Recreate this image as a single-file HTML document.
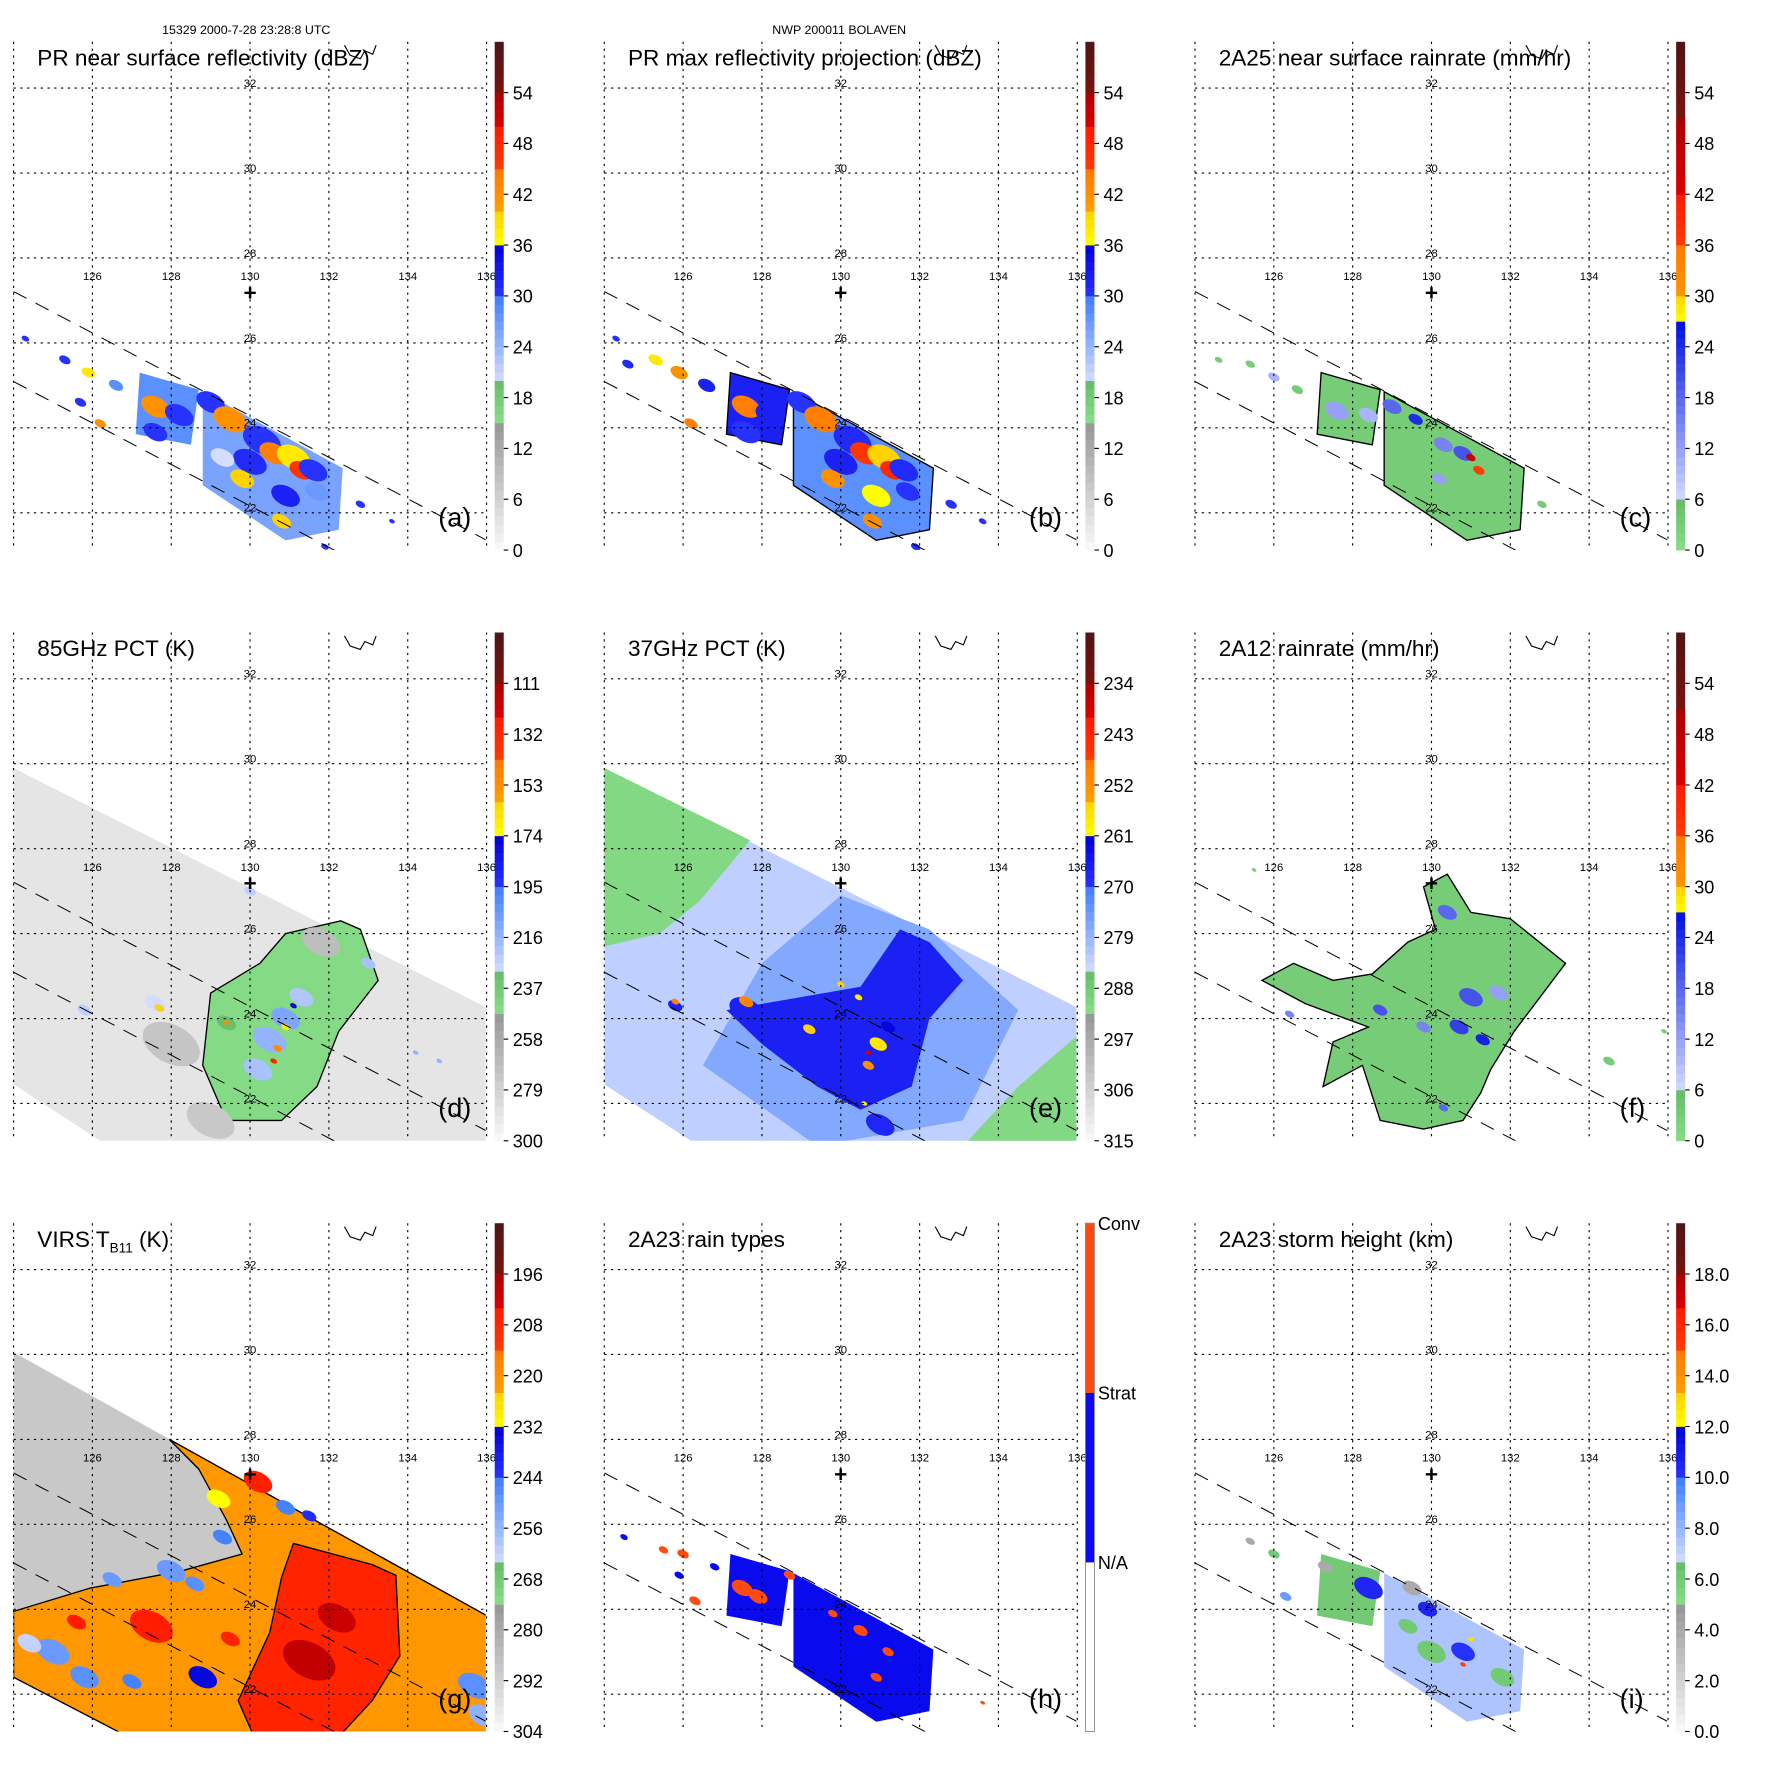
<!DOCTYPE html>
<html><head><meta charset="utf-8"><style>
html,body{margin:0;padding:0;background:#fff}
svg{display:block}
text{font-family:"Liberation Sans",sans-serif}
</style></head><body>
<svg id="fig" xmlns="http://www.w3.org/2000/svg" width="1771" height="1771" viewBox="0 0 1568 1568">
<rect x="0" y="0" width="1568" height="1568" fill="#fff"/>
<text x="218" y="30" font-size="11" text-anchor="middle">15329 2000-7-28 23:28:8 UTC</text>
<text x="743" y="30" font-size="11" text-anchor="middle">NWP 200011 BOLAVEN</text>
</svg>
<script>
// ---- data arrays (lon, lat, radius-deg, value) ----
const lonTicks=[126,128,130,132,134,136];
const latTicks=[32,30,28,26,24,22];
const labelsA=["54","48","42","36","30","24","18","12","6","0"];
const labelsD=["111","132","153","174","195","216","237","258","279","300"];
const labelsE=["234","243","252","261","270","279","288","297","306","315"];
const labelsG=["196","208","220","232","244","256","268","280","292","304"];
const labelsI=["18.0","16.0","14.0","12.0","10.0","8.0","6.0","4.0","2.0","0.0"];
const labelsH=["Conv","Strat","N/A"];
const prMain=[[128.8,24.85],[132.35,23.05],[132.25,21.6],[130.9,21.35],[128.8,22.65]];
const prLeft=[[127.2,25.3],[128.7,24.9],[128.5,23.6],[127.1,23.85]];
const tmiSwath=[[124,29.9],[136,24.26],[136,21.0],[126.4,21.0],[124,22.45]];
const virsSwath=[[124,30.05],[136,23.85],[136,21.0],[126.9,21.0],[124,22.4]];
const cellsA=[[127.6,24.5,0.3,42],[128.2,24.3,0.3,30],[129.0,24.6,0.3,30],[129.5,24.2,0.35,42],[130.3,23.7,0.4,30],[130.6,23.4,0.3,44],[131.1,23.3,0.35,38],[131.3,23.0,0.25,46],[130.0,23.2,0.35,31],[129.8,22.8,0.25,40],[131.6,23.0,0.3,30],[130.9,22.4,0.3,32],[131.7,22.5,0.25,27],[129.3,23.3,0.25,20],[125.3,25.6,0.12,30],[125.9,25.3,0.14,38],[126.6,25.0,0.15,28],[126.2,24.1,0.12,42],[125.7,24.6,0.12,30],[124.3,26.1,0.08,30],[132.8,22.2,0.1,30],[133.6,21.8,0.06,30],[131.9,21.2,0.08,30],[127.6,23.9,0.25,30],[130.8,21.8,0.2,40]];
const cellsB=[[127.6,24.5,0.3,44],[128.2,24.3,0.3,32],[129.0,24.6,0.3,30],[129.5,24.2,0.35,44],[130.3,23.7,0.4,31],[130.6,23.4,0.3,46],[131.1,23.3,0.35,40],[131.3,23.0,0.25,48],[130.0,23.2,0.35,32],[129.8,22.8,0.25,42],[131.6,23.0,0.3,31],[130.9,22.4,0.3,36],[131.7,22.5,0.25,30],[125.3,25.6,0.15,38],[125.9,25.3,0.18,42],[126.6,25.0,0.18,32],[126.2,24.1,0.14,44],[124.6,25.5,0.12,31],[124.3,26.1,0.08,30],[132.8,22.2,0.12,30],[133.6,21.8,0.08,30],[131.9,21.2,0.1,30],[127.6,23.9,0.3,30],[130.8,21.8,0.2,42]];
const cellsC=[[127.6,24.4,0.25,12],[128.4,24.3,0.2,10],[129.0,24.5,0.2,18],[129.6,24.2,0.15,24],[130.3,23.6,0.2,15],[130.8,23.4,0.2,20],[131.2,23.0,0.12,36],[131.0,23.3,0.1,45],[130.2,22.8,0.15,12],[126.0,25.2,0.12,10],[125.4,25.5,0.1,3],[126.6,24.9,0.12,3],[124.6,25.6,0.08,3],[132.8,22.2,0.1,3]];
const cellsD=[[128.0,23.4,0.6,272],[131.8,25.8,0.4,268],[129.0,21.6,0.5,274],[130.5,23.5,0.35,215],[130.9,24.0,0.3,210],[131.3,24.5,0.25,222],[130.2,22.8,0.3,220],[130.9,23.8,0.09,170],[130.7,23.3,0.09,150],[130.6,23.0,0.07,130],[131.1,24.3,0.07,175],[125.8,24.2,0.15,225],[127.6,24.35,0.22,230],[127.7,24.25,0.1,160],[129.4,23.9,0.2,232],[129.4,23.9,0.06,150],[130.0,27.0,0.12,225],[133.0,25.3,0.15,220],[134.2,23.2,0.06,215],[134.8,23.0,0.06,215]];
const cellsE=[[127.6,24.2,0.35,267],[125.8,24.3,0.15,267],[131.0,21.5,0.3,268],[130.95,23.4,0.18,258],[131.2,23.8,0.15,262],[130.7,22.9,0.12,252],[130.7,23.2,0.06,240],[129.2,23.75,0.13,255],[127.6,24.4,0.15,250],[125.8,24.4,0.08,250],[130.45,24.5,0.08,258],[130.0,24.8,0.08,255],[130.6,22.0,0.06,258]];
const cellsF=[[130.4,26.5,0.2,18],[131.0,24.5,0.25,20],[130.7,23.8,0.2,22],[131.3,23.5,0.15,25],[129.8,23.8,0.15,15],[128.7,24.2,0.15,20],[126.4,24.1,0.1,15],[131.7,24.6,0.2,12],[130.3,21.9,0.1,18],[127.5,24.5,0.08,3],[125.5,27.5,0.05,3],[134.5,23.0,0.12,3],[135.9,23.7,0.06,3]];
const cellsG=[[131.5,22.8,0.55,200],[132.2,23.8,0.4,201],[130.2,27.0,0.3,206],[127.5,23.6,0.45,205],[125.6,23.7,0.2,205],[129.5,23.3,0.2,207],[129.2,26.6,0.25,232],[128.8,22.4,0.3,234],[129.3,25.7,0.2,245],[128.6,24.6,0.2,248],[130.9,26.4,0.2,245],[131.5,26.2,0.15,242],[125.0,23.0,0.35,250],[125.8,22.4,0.3,248],[127.0,22.3,0.2,245],[135.7,22.2,0.35,248],[135.9,21.5,0.3,255],[128.0,24.9,0.3,250],[126.5,24.7,0.2,250],[124.4,23.2,0.25,262]];
const cellsH=[[127.5,24.5,0.22,2],[127.9,24.3,0.2,2],[126.0,25.3,0.12,2],[125.5,25.4,0.1,2],[126.3,24.2,0.12,2],[130.5,23.5,0.15,2],[131.2,23.0,0.12,2],[129.8,23.9,0.1,2],[128.7,24.8,0.12,2],[130.9,22.4,0.12,2],[124.5,25.7,0.08,1],[125.9,24.8,0.1,1],[126.8,25.0,0.1,1],[133.6,21.8,0.05,2]];
const cellsI=[[128.4,24.5,0.3,10.5],[129.9,24.0,0.2,10.5],[129.5,24.5,0.2,4],[127.3,25.0,0.15,4],[130.0,23.0,0.3,6],[131.8,22.4,0.25,6],[129.4,23.6,0.2,6],[131.0,23.3,0.06,13],[130.8,22.7,0.06,15],[126.0,25.3,0.12,6],[125.4,25.6,0.1,4],[126.3,24.3,0.12,9],[130.8,23.0,0.25,10]];
// ---- colormaps ----
const stdSeg=[[0,0.25,[250,250,250],[150,150,150]],[0.25,0.333,[138,224,138],[102,187,102]],[0.333,0.5,[212,220,255],[60,125,255]],[0.5,0.6,[40,50,255],[0,0,215]],[0.6,0.667,[255,255,0],[255,210,0]],[0.667,0.75,[255,160,0],[255,120,0]],[0.75,0.833,[255,60,0],[255,25,0]],[0.833,0.9,[220,0,0],[170,0,0]],[0.9,1.001,[120,20,15],[80,20,20]]];
const rainSeg=[[0,0.1,[136,221,136],[102,187,102]],[0.1,0.45,[210,218,255],[0,16,224]],[0.45,0.5,[255,255,0],[255,210,0]],[0.5,0.6,[255,150,0],[255,120,0]],[0.6,0.7,[255,60,0],[255,25,0]],[0.7,0.85,[220,0,0],[170,0,0]],[0.85,1.001,[120,20,15],[80,20,20]]];
function cmap(seg,t){t=Math.max(0,Math.min(1,t));for(const s of seg){if(t>=s[0]&&t<s[1]){const f=(t-s[0])/(s[1]-s[0]);const c=s[2].map((v,i)=>Math.round(v+(s[3][i]-v)*f));return `rgb(${c[0]},${c[1]},${c[2]})`;}}return '#fff';}
function typeColor(t){return t>=0.667?'#ff4a10':(t>=0.333?'#0a0aee':'#ffffff');}
const NS='http://www.w3.org/2000/svg';
const svg=document.getElementById('fig');
function mk(tag,at,parent){const e=document.createElementNS(NS,tag);for(const k in at)e.setAttribute(k,at[k]);(parent||svg).appendChild(e);return e;}
const panels=[
 {id:'a',c:0,r:0,title:'PR near surface reflectivity (dBZ)',labels:labelsA,seg:stdSeg,vb:0,vt:60,bg:null,regions:[[prMain,26],[prLeft,28]],cells:cellsA,outline:false},
 {id:'b',c:1,r:0,title:'PR max reflectivity projection (dBZ)',labels:labelsA,seg:stdSeg,vb:0,vt:60,bg:null,regions:[[prMain,28],[prLeft,32]],cells:cellsB,outline:true},
 {id:'c',c:2,r:0,title:'2A25 near surface rainrate (mm/hr)',labels:labelsA,seg:rainSeg,vb:0,vt:60,bg:null,regions:[[prMain,3],[prLeft,3]],cells:cellsC,outline:true},
 {id:'d',c:0,r:1,title:'85GHz PCT (K)',labels:labelsD,seg:stdSeg,vb:300,vt:90,bg:[tmiSwath,289],regions:[[[[129,24.6],[130.25,25.3],[130.9,26.0],[132.3,26.3],[132.8,26.1],[133.25,24.9],[132.25,23.7],[131.7,22.4],[130.8,21.6],[129.4,21.6],[128.8,22.9]],245]],cells:cellsD,outline:true},
 {id:'e',c:1,r:1,title:'37GHz PCT (K)',labels:labelsE,seg:stdSeg,vb:315,vt:225,bg:[tmiSwath,283],regions:[[[[124,29.9],[127.7,28.2],[126.4,26.75],[125.4,26],[124,25.7]],291],[[[133.1,21.0],[134.5,22.4],[136,23.6],[136,21.0]],291],[[[126.5,22.9],[128,25.3],[130,26.9],[132.25,26.1],[134.5,24.2],[133.1,21.6],[129.4,21.0]],277],[[[130.5,24.75],[131.5,26.1],[132.25,25.8],[133.1,24.9],[132.25,24],[131.8,22.4],[130.5,21.85],[129.4,22.4],[128,23.4],[127.1,24.2]],267]],cells:cellsE,outline:false},
 {id:'f',c:2,r:1,title:'2A12 rainrate (mm/hr)',labels:labelsA,seg:rainSeg,vb:0,vt:60,bg:null,regions:[[[[128.5,25.05],[129.4,25.8],[130.1,26.1],[129.8,27.1],[130.4,27.4],[131,26.5],[132,26.35],[133.4,25.3],[132.1,23.7],[131.5,22.8],[131.25,22.25],[130.8,21.6],[129.8,21.4],[128.7,21.6],[128.25,22.9],[127.25,22.4],[127.5,23.45],[128.4,23.8],[126.8,24.35],[125.7,24.9],[126.5,25.3],[127.5,24.9]],3]],cells:cellsF,outline:true},
 {id:'g',c:0,r:2,title:'VIRS',labels:labelsG,seg:stdSeg,vb:304,vt:184,bg:[virsSwath,289],regions:[[[[127.95,28.0],[128.7,27.3],[129.4,26.1],[129.8,25.3],[128.25,24.9],[125.95,24.5],[124,23.95],[124,22.4],[126.9,21.0],[136,21.0],[136,23.85]],222],[[[131.1,25.55],[133.1,25.05],[133.7,24.8],[133.8,22.9],[133.1,21.85],[132.25,21.0],[130.1,21.0],[129.7,21.85],[130.5,23.45],[130.8,24.75]],207]],cells:cellsG,outline:true},
 {id:'h',c:1,r:2,title:'2A23 rain types',labels:labelsH,seg:null,vb:0,vt:2,bg:null,regions:[[prMain,1],[prLeft,1]],cells:cellsH,outline:false},
 {id:'i',c:2,r:2,title:'2A23 storm height (km)',labels:labelsI,seg:stdSeg,vb:0,vt:20,bg:null,regions:[[prMain,7.5],[prLeft,6]],cells:cellsI,outline:false}
];
function colorOf(p,v){const t=(v-p.vb)/(p.vt-p.vb);return p.seg?cmap(p.seg,t):typeColor(t<0.25?0:(t<0.75?0.5:1));}
panels.forEach(p=>{
 const ox=p.c*523, oy=p.r*523;
 const X=lon=>ox+12+(lon-124)*34.9, Y=lat=>oy+78+(32-lat)*37.6;
 const g=mk('g',{});
 
 
 const defs=mk('defs',{},g);const cp=mk('clipPath',{id:'clip'+p.id},defs);mk('rect',{x:ox+12,y:oy+37,width:418,height:450},cp);
 const dg=mk('g',{'clip-path':`url(#clip${p.id})`},g);
 
 
 const pts=a=>a.map(q=>X(q[0]).toFixed(1)+','+Y(q[1]).toFixed(1)).join(' ');
 if(p.bg){const e=mk('polygon',{points:pts(p.bg[0]),fill:colorOf(p,p.bg[1])},dg);
  
  }
 p.regions.forEach(rg=>{const e=mk('polygon',{points:pts(rg[0]),fill:colorOf(p,rg[1]),stroke:p.outline?'#000':'none','stroke-width':1.2},dg);
  
  });
 p.cells.forEach(cl=>{const cx=X(cl[0]),cy=Y(cl[1]);const e=mk('ellipse',{cx:cx.toFixed(1),cy:cy.toFixed(1),rx:(cl[2]*34.9*1.3).toFixed(1),ry:(cl[2]*37.6*0.75).toFixed(1),fill:colorOf(p,cl[3]),transform:`rotate(28 ${cx.toFixed(1)} ${cy.toFixed(1)})`},dg);
  
  });
 [27.21,25.09].forEach(l0=>{const e=mk('line',{x1:X(124),y1:Y(l0),x2:X(136),y2:Y(l0-0.488*12),stroke:'#000','stroke-width':0.9,'stroke-dasharray':'13,9'},dg);
  
  });
 [124].concat(lonTicks).forEach(lon=>{const e=mk('line',{x1:X(lon),y1:oy+37,x2:X(lon),y2:oy+487,stroke:'#000','stroke-width':1,'stroke-dasharray':'2,4'},g);
  
  });
 latTicks.forEach(lat=>{const e=mk('line',{x1:ox+12,y1:Y(lat),x2:ox+430,y2:Y(lat),stroke:'#000','stroke-width':1,'stroke-dasharray':'2,4'},g);
  
  
  const t=mk('text',{x:X(130),y:Y(lat)-1,'font-size':10,'text-anchor':'middle'},g);t.textContent=lat;
  
  });
 lonTicks.forEach(lon=>{const t=mk('text',{x:X(lon),y:oy+248,'font-size':10,'text-anchor':'middle'},g);t.textContent=lon;
  
  });
 const cr=mk('text',{x:X(130),y:oy+266,'font-size':20,'font-weight':'bold','text-anchor':'middle'},g);cr.textContent='+';
 
 
 const cg=mk('path',{d:`M${ox+305} ${oy+40} l5 9 l9 3 l4 -7 l7 3 l3 -8`,fill:'none',stroke:'#000','stroke-width':1},g);
 
 
 const tt=mk('text',{x:ox+33,y:oy+58,'font-size':20},g);
 if(p.id==='g'){tt.innerHTML='VIRS T<tspan font-size="12" dy="5">B11</tspan><tspan dy="-5"> (K)</tspan>';}else tt.textContent=p.title;
 
 
 const lt=mk('text',{x:ox+388,y:oy+466,'font-size':24},g);lt.textContent='('+p.id+')';
 
 
 const cb=mk('g',{},g);
 
 
 for(let k=0;k<60;k++){const t=(k+0.5)/60;const col=p.seg?cmap(p.seg,t):typeColor(t);
  mk('rect',{x:ox+438,y:(oy+487-(k+1)*7.5).toFixed(2),width:8,height:7.8,fill:col},cb);}
 if(!p.seg){mk('rect',{x:ox+438,y:oy+37,width:8,height:450,fill:'none',stroke:'#888','stroke-width':0.8},cb);
  [0,150,300].forEach((dy,i)=>{const t=mk('text',{x:ox+449,y:oy+37+dy+6,'font-size':16},cb);t.textContent=p.labels[i];
   
   });}
 else p.labels.forEach((lb,i)=>{const y=oy+82+45*i;mk('line',{x1:ox+446,y1:y,x2:ox+450,y2:y,stroke:'#000'},cb);
  const t=mk('text',{x:ox+454,y:y+6,'font-size':16},cb);t.textContent=lb;
  
  });
});
</script>
</body></html>
